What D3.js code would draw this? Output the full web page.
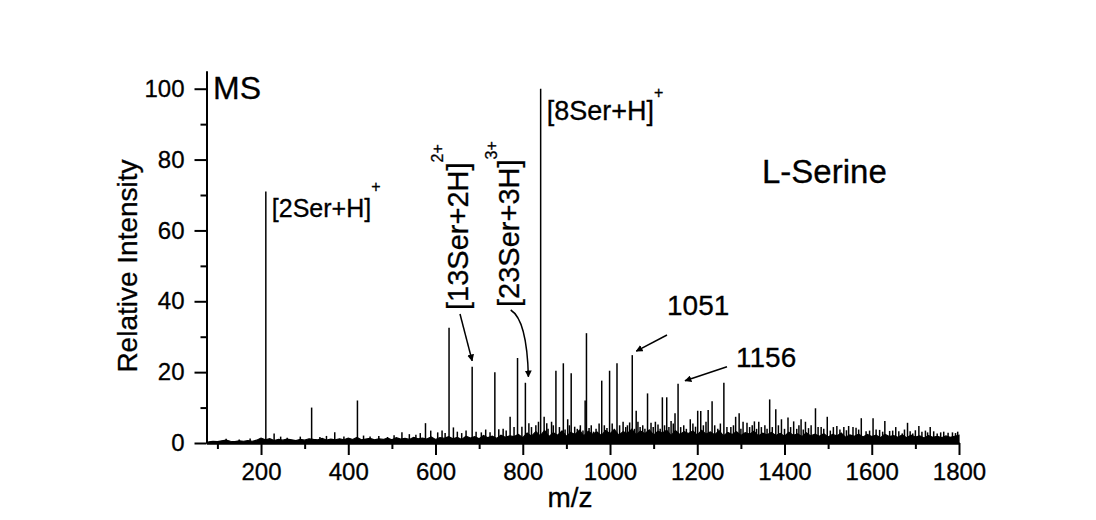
<!DOCTYPE html>
<html>
<head>
<meta charset="utf-8">
<script src="https://cdn.jsdelivr.net/npm/d3@7"></script>
<style>
  body { margin: 0; background: #fff; }
  svg text { font-family: "Liberation Sans", Arial, sans-serif; fill: #000; stroke: #000; stroke-width: 0.3px; }
</style>
</head>
<body>
<div id="chart"></div>
<script>
// main peaks (m/z, relative intensity)
var peakMz = [211, 230, 316, 369, 421, 523, 577, 589, 631, 641, 684, 693, 736, 745, 771, 788, 798, 806, 814,
    841, 849, 855, 866, 876, 893, 903, 911, 919, 943, 946, 962, 981, 987, 999, 1016, 1030, 1040, 1051, 1060,
    1069, 1086, 1094, 1104, 1120, 1130, 1140, 1149, 1156, 1169, 1184, 1201, 1208, 1225, 1234, 1261, 1277,
    1288, 1296, 1305, 1314, 1331, 1341, 1366, 1380, 1393, 1408, 1421, 1438, 1448, 1471, 1484, 1498, 1520,
    1536, 1547, 1557, 1564, 1576, 1587, 1603, 1618, 1630, 1641, 1655, 1670, 1682, 1694, 1708, 1723, 1734,
    1750, 1797];
var peakInt = [71, 2.7, 10, 3, 12, 3, 5.6, 3.5, 32.5, 4.4, 21.5, 3.2, 20, 3.9, 7.4, 24, 4.6, 17, 5.6,
    100, 7.4, 5.6, 6, 20.4, 22.5, 6.7, 19.7, 4.6, 12, 31, 3.2, 17.6, 5, 20.4, 22.5, 6, 5, 24.8, 9.1,
    4.5, 14, 5.7, 6, 12.9, 12.9, 6.2, 8.4, 16.7, 5, 6.7, 9.1, 9, 9.3, 11.8, 17, 4.5,
    7.4, 8.4, 6, 5.7, 6.1, 6, 12.3, 9.5, 6.7, 7.2, 6.1, 6.7, 6, 9.8, 4.5, 7.4, 4.8,
    4.5, 4.8, 4.5, 4.3, 7, 3.3, 7, 3.7, 6.2, 3.4, 4.5, 2.7, 5.7, 2.7, 4.8, 3.5, 4.5,
    2.7, 3.2];

// small spikes riding on the noise
var minorMz = [120, 150, 175, 245, 260, 290, 335, 350, 390, 435, 450, 470, 490, 505, 540, 555, 565,
    605, 615, 622, 650, 660, 670, 705, 715, 725, 755, 762, 780, 820, 830, 836,
    858, 870, 884, 897, 907, 925, 932, 938, 952, 957, 968, 975, 993, 1005, 1010, 1022, 1036, 1045,
    1056, 1064, 1075, 1080, 1099, 1110, 1115, 1125, 1135, 1145, 1162, 1175, 1190, 1196, 1214, 1220,
    1240, 1247, 1253, 1268, 1283, 1300, 1320, 1326, 1336, 1347, 1355, 1360, 1372, 1386, 1400, 1414,
    1428, 1433, 1443, 1455, 1461, 1477, 1490, 1505, 1512, 1527, 1542, 1570, 1595, 1610, 1625, 1648,
    1662, 1675, 1688, 1700, 1715, 1728, 1742, 1758, 1765, 1775, 1785, 1792];
var minorInt = [1.2, 1, 1.3, 1.8, 1.5, 1.8, 1.7, 2, 1.8, 2.1, 1.8, 2, 1.7, 2.2, 2.5, 2.3, 2.8,
    3, 3.5, 2.8, 3.2, 2.8, 3.5, 3, 3.8, 3, 4, 3.5, 4.5, 4.5, 5, 6,
    4, 5, 4.5, 3.8, 5, 4, 5, 3.5, 4.2, 5, 4, 5.5, 4.2, 5.5, 4, 5, 4.5, 5.8,
    4, 6, 5, 4, 4.5, 5.2, 4, 5, 4.5, 5.5, 4.5, 4, 5.5, 4.6, 5, 6,
    5, 4, 5.5, 4.5, 5, 4, 4.5, 5, 4, 4.5, 5, 4, 4.5, 5, 4, 4.5,
    4, 5, 3.8, 4.2, 5, 4.5, 4, 3.5, 4.5, 3.8, 3.6, 3.8, 3.5, 3.8, 3.2, 3.5,
    3.3, 3.8, 3.3, 3.6, 3.2, 3, 3.3, 3, 3.2, 2.9, 3, 2.8];

// baseline noise, one reading every 10 m/z from 80 to 1800
var noiseInt = [
    0.3, 0.5, 0.4, 0.6, 0.8, 0.5, 0.4, 0.6, 0.5, 0.7,
    0.5, 0.8, 1.4, 0.9, 1.2, 0.7, 1.0, 0.8, 1.1, 0.9,
    0.7, 1.0, 0.8, 1.2, 1.0, 0.9, 1.3, 0.8, 1.1, 0.9,
    1.2, 0.9, 1.4, 1.0, 1.6, 0.9, 1.1, 1.3, 0.9, 1.2,
    1.0, 1.4, 0.9, 1.5, 1.1, 1.3, 1.0, 1.6, 1.2, 1.4,
    1.1, 1.7, 1.0, 1.5, 1.3, 1.8, 1.2, 1.6, 1.0, 1.9,
    1.4, 1.8, 1.2, 2.1, 1.5, 1.9, 1.3, 2.2, 1.6, 2.0,
    1.8, 2.4, 1.5, 2.8, 1.9, 3.2, 2.0, 3.5, 1.8, 2.9,
    2.2, 3.4, 1.9, 3.0, 2.4, 3.6, 2.0, 3.3, 2.5, 3.1,
    2.1, 3.5, 2.6, 3.8, 2.2, 3.2, 2.7, 3.9, 2.3, 3.4,
    2.6, 3.7, 2.2, 3.3, 2.8, 3.6, 2.1, 3.5, 2.4, 3.2,
    2.7, 3.4, 2.2, 3.6, 2.5, 3.1, 2.3, 3.5, 2.0, 3.0,
    2.4, 3.2, 2.1, 2.9, 2.5, 3.3, 2.0, 2.8, 2.3, 3.0,
    2.1, 2.7, 1.9, 3.0, 2.2, 2.6, 1.8, 2.9, 2.0, 2.5,
    1.9, 2.6, 1.7, 2.4, 2.0, 2.8, 1.6, 2.3, 1.9, 2.5,
    1.7, 2.4, 1.8, 2.2, 1.5, 2.5, 1.8, 2.1, 1.6, 2.3,
    1.5, 2.2, 1.7, 2.0, 1.4, 2.1, 1.6, 1.9, 1.5, 2.0,
    1.6, 1.9, 2.2];
var noiseMz = d3.range(80, 1801, 10);

var xTicks = [200, 400, 600, 800, 1000, 1200, 1400, 1600, 1800];
var xMinor = [100, 300, 500, 700, 900, 1100, 1300, 1500, 1700];
var yTicks = [0, 20, 40, 60, 80, 100];
var yMinor = [10, 30, 50, 70, 90];

// viz sizes
var W = 1096, H = 520;
var margin = {left: 206.5, right: 137, top: 71, bottom: 77};

var svg = d3.select("#chart").append("svg")
    .attr("width", W)
    .attr("height", H);

var x = d3.scaleLinear().domain([75, 1800]).range([margin.left, W - margin.right]);
var y = d3.scaleLinear().domain([0, 105]).range([H - margin.bottom, margin.top]);

// arrow marker
svg.append("defs").append("marker")
    .attr("id", "arrow")
    .attr("viewBox", "0 -5 10 10")
    .attr("refX", 9)
    .attr("refY", 0)
    .attr("markerWidth", 7)
    .attr("markerHeight", 7)
    .attr("markerUnits", "userSpaceOnUse")
    .attr("orient", "auto")
    .append("path")
        .attr("d", "M0,-5L10,0L0,5Z")
        .attr("fill", "black");

// noise floor, filled down to the axis
var noise = noiseMz.map(function (m, i) { return [m, noiseInt[i]]; });
svg.append("path")
    .datum(noise)
    .attr("fill", "black")
    .attr("stroke", "black")
    .attr("stroke-width", 1.2)
    .attr("d", d3.area()
        .x(function (d) { return x(d[0]); })
        .y0(y(0))
        .y1(function (d) { return y(d[1]); }));

// small spikes
svg.selectAll(".minor")
    .data(minorMz)
    .enter().append("line")
        .attr("class", "minor")
        .attr("x1", function (d) { return x(d); })
        .attr("x2", function (d) { return x(d); })
        .attr("y1", y(0))
        .attr("y2", function (d, i) { return y(minorInt[i]); })
        .attr("stroke", "black")
        .attr("stroke-width", 1.5);

// peaks as sticks
svg.selectAll(".peak")
    .data(peakMz)
    .enter().append("line")
        .attr("class", "peak")
        .attr("x1", function (d) { return x(d); })
        .attr("x2", function (d) { return x(d); })
        .attr("y1", y(0))
        .attr("y2", function (d, i) { return y(peakInt[i]); })
        .attr("stroke", "black")
        .attr("stroke-width", 1.5);

// axes
function styleAxis(g) {
    g.select(".domain").attr("stroke-width", 2);
    g.selectAll(".tick line").attr("stroke-width", 2);
    g.selectAll(".tick text").style("font-size", "24px").attr("font-family", null);
}

svg.append("g")
    .attr("transform", "translate(0," + y(0) + ")")
    .call(d3.axisBottom(x).tickValues(xMinor).tickSize(6).tickSizeOuter(0).tickFormat(""))
    .call(styleAxis);
svg.append("g")
    .attr("transform", "translate(0," + y(0) + ")")
    .call(d3.axisBottom(x).tickValues(xTicks).tickSize(12).tickSizeOuter(0).tickPadding(8)
        .tickFormat(d3.format("d")))
    .call(styleAxis);

svg.append("g")
    .attr("transform", "translate(" + x(75) + ",0)")
    .call(d3.axisLeft(y).tickValues(yMinor).tickSize(6).tickSizeOuter(0).tickFormat(""))
    .call(styleAxis);
svg.append("g")
    .attr("transform", "translate(" + x(75) + ",0)")
    .call(d3.axisLeft(y).tickValues(yTicks).tickSize(12).tickSizeOuter(0).tickPadding(10))
    .call(styleAxis);

// axis titles
svg.append("text")
    .attr("transform", "translate(137," + ((y(0) + y(105)) / 2 + 9) + ") rotate(-90)")
    .attr("text-anchor", "middle")
    .style("font-size", "28px")
    .text("Relative Intensity");
svg.append("text")
    .attr("x", 570).attr("y", 507)
    .attr("text-anchor", "middle")
    .style("font-size", "28px")
    .text("m/z");

// panel labels
svg.append("text").attr("x", 213).attr("y", 99).style("font-size", "32px").text("MS");
svg.append("text").attr("x", 762).attr("y", 183).style("font-size", "33px").text("L-Serine");

// ion labels
function ionLabel(t, main, sup, size, supDy) {
    t.style("font-size", size + "px");
    t.append("tspan").text(main);
    t.append("tspan").attr("dy", supDy).style("font-size", "16px").text(sup);
}
svg.append("text").attr("x", x(211) + 6).attr("y", 217)
    .call(ionLabel, "[2Ser+H]", "+", 25, -25);
svg.append("text").attr("x", x(841) + 6).attr("y", 120)
    .call(ionLabel, "[8Ser+H]", "+", 27, -22);
svg.append("text").attr("transform", "translate(468,310) rotate(-90)")
    .call(ionLabel, "[13Ser+2H]", "2+", 29, -25);
svg.append("text").attr("transform", "translate(519,307) rotate(-90)")
    .call(ionLabel, "[23Ser+3H]", "3+", 29, -22);

svg.append("text").attr("x", 667).attr("y", 315).style("font-size", "28px").text("1051");
svg.append("text").attr("x", 736).attr("y", 367).style("font-size", "28px").text("1156");

// arrows pointing at the annotated peaks
svg.append("line")
    .attr("x1", 460).attr("y1", 314)
    .attr("x2", x(684)).attr("y2", y(21.5) - 6)
    .attr("stroke", "black").attr("stroke-width", 1.5)
    .attr("marker-end", "url(#arrow)");
svg.append("path")
    .attr("d", "M510.7,310 Q527,320 " + (x(806) + 3) + "," + (y(17) - 6))
    .attr("fill", "none")
    .attr("stroke", "black").attr("stroke-width", 1.5)
    .attr("marker-end", "url(#arrow)");
svg.append("line")
    .attr("x1", 667).attr("y1", 335)
    .attr("x2", x(1051) + 4).attr("y2", y(24.8) - 4)
    .attr("stroke", "black").attr("stroke-width", 1.5)
    .attr("marker-end", "url(#arrow)");
svg.append("line")
    .attr("x1", 727).attr("y1", 366.7)
    .attr("x2", x(1156) + 7).attr("y2", y(16.7) - 3)
    .attr("stroke", "black").attr("stroke-width", 1.5)
    .attr("marker-end", "url(#arrow)");
</script>
</body>
</html>
